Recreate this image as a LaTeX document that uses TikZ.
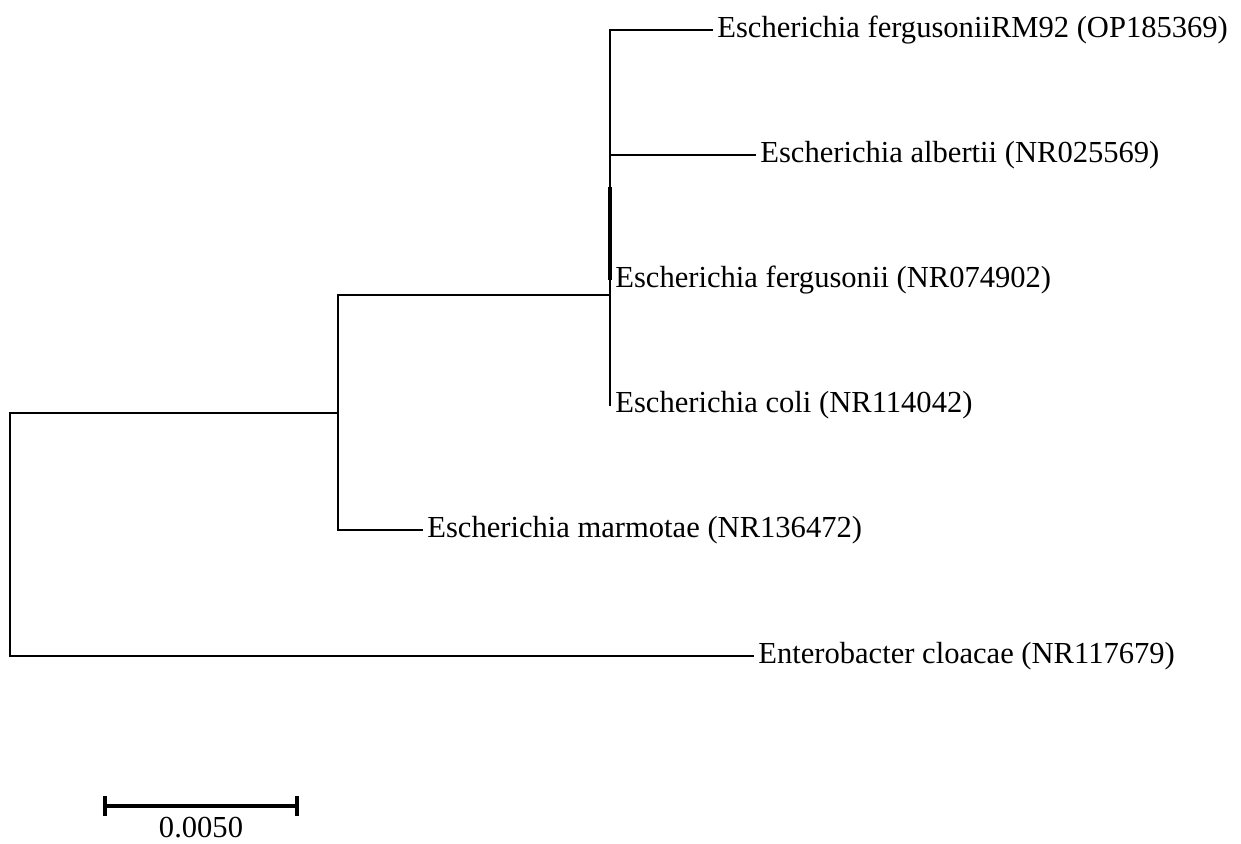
\documentclass[tikz,border=0pt]{standalone}
\usepackage{fontspec}
\setmainfont{Liberation Serif}
\usetikzlibrary{calc,positioning}
\tikzset{
  branch/.style={line width=1.2pt, line cap=rect},
  subbranch/.style={line width=2.2pt},
  taxon/.style={anchor=west, inner xsep=0.1cm, inner ysep=0pt, font=\fontsize{17.4}{20}\selectfont},
  scalebar/.style={line width=2.6pt}
}

\begin{document}
\begin{tikzpicture}[x=0.02cm,y=-0.02cm]
		%%%%% START %%%%%
		\useasboundingbox (0,0) rectangle (1241,844);
		
		\coordinate (root) at (10,535);
		\coordinate (esch) at (338,413);
		\coordinate (core) at (610,295);
		\coordinate (sub) at (610,187);
		
		\node[taxon] (rm92) at (712,30) {Escherichia fergusoniiRM92 (OP185369)};
		\node[taxon] (albertii) at (755,155) {Escherichia albertii (NR025569)};
		\node[taxon] (ferg) at (610,280) {Escherichia fergusonii (NR074902)};
		\node[taxon] (coli) at (610,405) {Escherichia coli (NR114042)};
		\node[taxon] (marm) at (422,530) {Escherichia marmotae (NR136472)};
		\node[taxon] (entero) at (753,656) {Enterobacter cloacae (NR117679)};
		
		\draw[branch] (esch) -| (root) |- (entero.west);
		\draw[branch] (core) -| (esch) |- (marm.west);
		\draw[branch] (core) |- (rm92.west);
		\draw[branch] (core) |- (albertii.west);
		\draw[branch] (core) |- (coli.west);
		\draw[subbranch] (sub) |- (ferg.west);
		
		% scale bar
		\coordinate (sbl) at (105,806);
		\coordinate (sbr) at (297,806);
		\draw[scalebar] (sbl) -- (sbr);
		\draw[scalebar] ($(sbl)+(0,-10)$) -- ($(sbl)+(0,10)$);
		\draw[scalebar] ($(sbr)+(0,-10)$) -- ($(sbr)+(0,10)$);
		\node[font=\fontsize{17.4}{20}\selectfont, inner sep=0pt] (sblabel) at ($(sbl)!0.5!(sbr)+(0,22)$) {0.0050};
		%%%%% END %%%%%
\end{tikzpicture}
\end{document}
